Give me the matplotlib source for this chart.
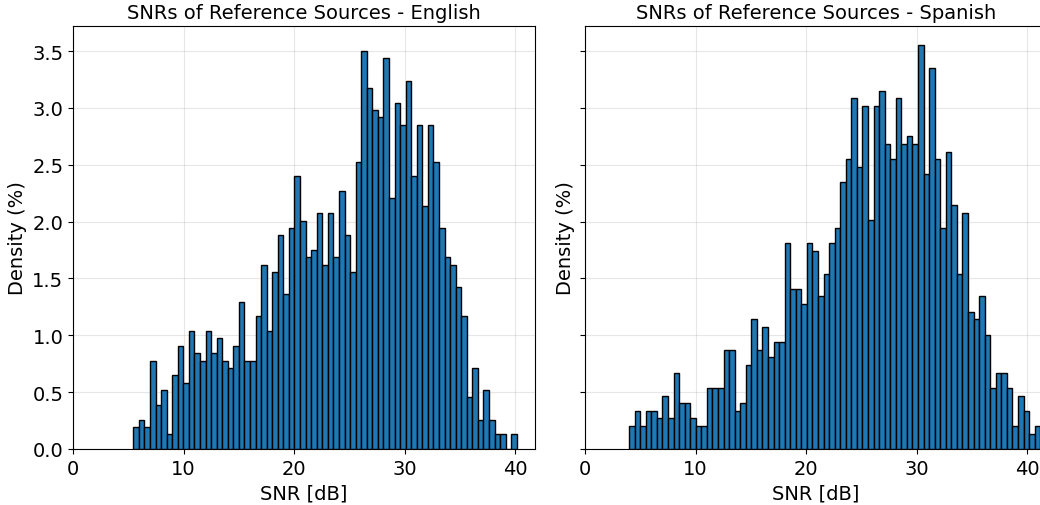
import numpy as np
import matplotlib
matplotlib.use('Agg')
import matplotlib.pyplot as plt

# bar heights, as sample counts per bin (normalised to % below)
english_counts = [3, 4, 3, 12, 6, 8, 2, 10, 14, 9,
                  16, 13, 12, 16, 13, 15, 12, 11, 14, 20,
                  12, 12, 18, 25, 16, 24, 29, 21, 30, 37,
                  31, 26, 27, 32, 25, 32, 26, 35, 29, 24,
                  39, 54, 49, 46, 45, 53, 34, 47, 44, 50,
                  37, 44, 33, 44, 39, 30, 26, 25, 22, 18,
                  7, 11, 4, 8, 4, 2, 2, 0, 2]
spanish_counts = [3, 5, 3, 5, 5, 4, 7, 4, 10, 6,
                  6, 4, 3, 3, 8, 8, 8, 13, 13, 5,
                  6, 11, 17, 13, 16, 12, 14, 14, 27, 21,
                  21, 19, 27, 26, 20, 23, 27, 29, 35, 38,
                  46, 37, 45, 30, 45, 47, 40, 38, 46, 40,
                  41, 40, 53, 36, 50, 38, 29, 39, 32, 23,
                  31, 18, 17, 20, 15, 8, 10, 10, 8, 3,
                  7, 5, 2, 3]

# bin range of each histogram [dB]
english_range = (5.46, 40.15)
spanish_range = (3.99, 41.19)

languages = ['English', 'Spanish']
counts = [english_counts, spanish_counts]
ranges = [english_range, spanish_range]

plt.rcParams['font.size'] = 14

fig = plt.figure(figsize=(10.4, 5.06), dpi=100)
ax1 = fig.add_axes([73 / 1040, 56 / 506, 462 / 1040, 423 / 506])
ax2 = fig.add_axes([585 / 1040, 56 / 506, 462 / 1040, 423 / 506], sharey=ax1)

for ax, lang, c, r in zip([ax1, ax2], languages, counts, ranges):
    c = np.array(c, dtype=float)
    dens = c / c.sum() * 100
    edges = np.linspace(r[0], r[1], len(c) + 1)
    centers = (edges[:-1] + edges[1:]) / 2
    ax.hist(centers, bins=edges, weights=dens, color='#1f77b4',
            edgecolor='black', linewidth=1, zorder=3)
    ax.set_title(f'SNRs of Reference Sources - {lang}', fontsize=14)
    ax.set_xlabel('SNR [dB]')
    ax.set_ylabel('Density (%)')
    ax.grid(True, alpha=0.3, zorder=0)
    ax.set_xlim(0, 41.8)
    ax.set_xticks([0, 10, 20, 30, 40])

ax1.set_ylim(0, 3.72)
ax1.set_yticks(np.arange(0, 3.51, 0.5))
ax2.tick_params(labelleft=False)

plt.savefig('out.png', dpi=100)
